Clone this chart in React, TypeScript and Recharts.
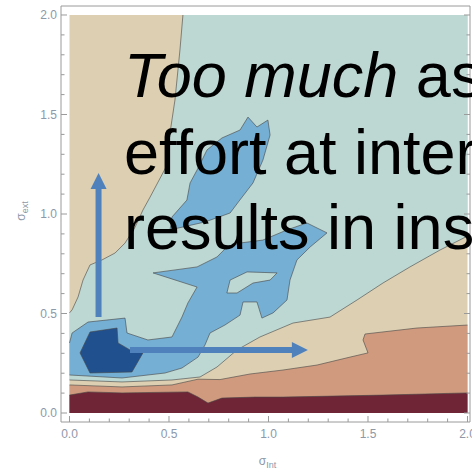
import React from 'react';
import { ScatterChart, Scatter, XAxis, YAxis } from 'recharts';

type Pt = [number, number];

// tick positions on every side of the frame (labels only on the halves)
const tickValues = [0, 0.1, 0.2, 0.3, 0.4, 0.5, 0.6, 0.7, 0.8, 0.9, 1, 1.1, 1.2, 1.3, 1.4, 1.5, 1.6, 1.7, 1.8, 1.9, 2];

// contour lines (sigma_int, sigma_ext)
const tealTop: Pt[] = [
  [0, 0.503], [0.013, 0.518], [0.043, 0.583], [0.068, 0.668], [0.103, 0.744], [0.163, 0.769],
  [0.229, 0.804], [0.279, 0.854], [0.33, 0.935], [0.369, 1.02], [0.405, 1.085], [0.485, 1.236],
  [0.505, 1.407], [0.53, 1.573], [0.555, 1.824], [0.57, 2],
];
const tealBottom: Pt[] = [
  [0, 0.166], [0.264, 0.156], [0.515, 0.166], [0.656, 0.181], [0.741, 0.231], [0.842, 0.317],
  [0.957, 0.382], [1.123, 0.452], [1.309, 0.482], [1.445, 0.568], [1.575, 0.653], [1.711, 0.734],
  [1.862, 0.819], [2, 0.889],
];
const salmonTop: Pt[] = [
  [0, 0.141], [0.264, 0.131], [0.515, 0.141], [0.646, 0.17], [0.756, 0.168], [0.907, 0.196],
  [1.073, 0.216], [1.244, 0.241], [1.41, 0.281], [1.5, 0.302], [1.475, 0.367], [1.485, 0.397],
  [1.746, 0.427], [2, 0.442],
];
const wineTop: Pt[] = [
  [0, 0.09], [0.093, 0.106], [0.264, 0.101], [0.595, 0.106], [0.646, 0.08], [0.696, 0.05],
  [0.766, 0.075], [0.932, 0.08], [1.073, 0.08], [1.575, 0.09], [2, 0.101],
];
const blueMain: Pt[] = [
  [0, 0.352], [0.013, 0.402], [0.093, 0.457], [0.279, 0.477], [0.289, 0.402], [0.394, 0.367],
  [0.515, 0.382], [0.565, 0.482], [0.595, 0.553], [0.641, 0.633], [0.42, 0.704], [0.641, 0.734],
  [0.741, 0.784], [0.791, 0.834], [0.856, 0.854], [0.972, 0.869], [1.093, 0.92], [1.193, 0.955],
  [1.294, 0.905], [1.209, 0.834], [1.143, 0.769], [1.108, 0.668], [1.093, 0.568], [1.023, 0.503],
  [0.967, 0.477], [0.942, 0.558], [0.872, 0.558], [0.857, 0.492], [0.781, 0.442], [0.706, 0.402],
  [0.681, 0.342], [0.646, 0.281], [0.565, 0.226], [0.48, 0.201], [0.264, 0.176], [0, 0.191],
];
const blueFinger: Pt[] = [
  [0.897, 1.487], [0.942, 1.437], [0.997, 1.472], [1.008, 1.397], [0.972, 1.271], [0.922, 1.156],
  [0.856, 1.07], [0.807, 1.005], [0.681, 0.96], [0.505, 0.92], [0.515, 0.985], [0.59, 1.07],
  [0.606, 1.156], [0.641, 1.221], [0.691, 1.322], [0.766, 1.382], [0.857, 1.422],
];
const blueHole: Pt[] = [
  [0.791, 0.603], [0.807, 0.668], [0.892, 0.709], [1.043, 0.704], [1.008, 0.668], [0.922, 0.653], [0.842, 0.603],
];
const navyCore: Pt[] = [
  [0.103, 0.407], [0.239, 0.427], [0.244, 0.352], [0.304, 0.317], [0.369, 0.302], [0.314, 0.206],
  [0.103, 0.201], [0.053, 0.302],
];
const upArrow: Pt[] = [[0.146, 0.482], [0.146, 1.206]];
const rightArrow: Pt[] = [[0.304, 0.317], [1.198, 0.317]];

const overlayLines = [
  { italic: 'Too much', rest: ' as' },
  { italic: '', rest: 'effort at inter' },
  { italic: '', rest: 'results in ins' },
];

const BEIGE = '#ddd0b2';
const TEAL = '#bdd7d3';
const SALMON = '#d09a7e';
const WINE = '#6f2536';
const BLUE = '#75afd3';
const NAVY = '#21508f';
const ARROW = '#4f81bd';
const EDGE = 'rgba(70,70,70,0.6)';
const FRAME = '#9a9a9a';
const LABEL = '#8d98a8';
const FONT = '"Liberation Sans", Arial, Helvetica, sans-serif';

const toRows = (pts: Pt[]) => pts.map(([x, y]) => ({ x, y }));

const tealFill: Pt[] = [...tealTop, [2, 2], ...tealBottom.slice().reverse()];
const salmonFill: Pt[] = [...salmonTop, [2, 0], [0, 0]];
const wineFill: Pt[] = [...wineTop, [2, 0], [0, 0]];
const beigeFill: Pt[] = [[0, 0], [2, 0], [2, 2], [0, 2]];

const fills = [
  { pts: beigeFill, color: BEIGE },
  { pts: tealFill, color: TEAL },
  { pts: salmonFill, color: SALMON },
  { pts: wineFill, color: WINE },
  { pts: blueMain, color: BLUE },
  { pts: blueFinger, color: BLUE },
  { pts: blueHole, color: TEAL },
  { pts: navyCore, color: NAVY },
];
const edges = [
  { pts: tealTop, closed: false },
  { pts: tealBottom, closed: false },
  { pts: salmonTop, closed: false },
  { pts: wineTop, closed: false },
  { pts: blueMain, closed: false },
  { pts: blueFinger, closed: true },
  { pts: blueHole, closed: true },
  { pts: navyCore, closed: true },
];

const pathOf = (points: { x: number; y: number }[], closed: boolean) =>
  points.map((p, i) => `${i ? 'L' : 'M'}${p.x},${p.y}`).join('') + (closed ? 'Z' : '');

const noDot = () => <g />;

const isMajor = (v: number) => Math.abs(v * 2 - Math.round(v * 2)) < 1e-6;

function FrameTick(props: any) {
  const { x, y, payload, side } = props;
  const v = payload.value as number;
  const len = isMajor(v) ? 6 : 3.5;
  const label = isMajor(v) ? v.toFixed(1) : null;
  if (side === 'bottom') {
    return (
      <g>
        <line x1={x} x2={x} y1={y} y2={y - len} stroke={FRAME} />
        {label && (
          <text x={x} y={y + 16} textAnchor="middle" fontSize={12} fontFamily={FONT} fill={LABEL}>{label}</text>
        )}
      </g>
    );
  }
  if (side === 'left') {
    return (
      <g>
        <line x1={x} x2={x + len} y1={y} y2={y} stroke={FRAME} />
        {label && (
          <text x={x - 4} y={y + 4.3} textAnchor="end" fontSize={12} fontFamily={FONT} fill={LABEL}>{label}</text>
        )}
      </g>
    );
  }
  if (side === 'top') {
    return <line x1={x} x2={x} y1={y} y2={y + len} stroke={FRAME} />;
  }
  return <line x1={x} x2={x - len} y1={y} y2={y} stroke={FRAME} />;
}

function XTitle(props: any) {
  const vb = props.viewBox;
  const cx = vb.x + vb.width / 2 + 2;
  const cy = vb.y + 43;
  return (
    <text x={cx} y={cy} textAnchor="middle" fontFamily={FONT} fill={LABEL} fontSize={12}>
      σ<tspan fontSize={9} dy={3}>Int</tspan>
    </text>
  );
}

function YTitle(props: any) {
  const vb = props.viewBox;
  const cx = vb.x + 25;
  const cy = vb.y + vb.height / 2 - 3;
  return (
    <text x={cx} y={cy} textAnchor="middle" fontFamily={FONT} fill={LABEL} fontSize={12} transform={`rotate(-90, ${cx}, ${cy})`}>
      σ<tspan fontSize={9} dy={3}>ext</tspan>
    </text>
  );
}

function arrowLine(p: any) {
  const [a, b] = p.points;
  const dx = b.x - a.x;
  const dy = b.y - a.y;
  const len = Math.hypot(dx, dy);
  const ux = dx / len;
  const uy = dy / len;
  const head = 16;
  const half = 8;
  const bx = b.x - ux * head;
  const by = b.y - uy * head;
  return (
    <g>
      <line x1={a.x} y1={a.y} x2={bx + ux} y2={by + uy} stroke={ARROW} strokeWidth={6} />
      <polygon
        points={`${b.x},${b.y} ${bx - uy * half},${by + ux * half} ${bx + uy * half},${by - ux * half}`}
        fill={ARROW}
      />
    </g>
  );
}

function ContourChart() {
  const xDomain = [-0.0427, 2.0126];
  const yDomain = [-0.0452, 2.0452];
  return (
    <ScatterChart width={472} height={469} margin={{ top: 0, right: 0, bottom: 0, left: 0 }}>
      <XAxis
        dataKey="x"
        type="number"
        domain={xDomain}
        allowDataOverflow
        ticks={tickValues}
        interval={0}
        height={47}
        tickSize={0}
        tickMargin={0}
        tickLine={false}
        axisLine={{ stroke: FRAME }}
        tick={(p: any) => <FrameTick {...p} side="bottom" />}
        label={(p: any) => <XTitle {...p} />}
      />
      <XAxis
        xAxisId="top"
        orientation="top"
        type="number"
        domain={xDomain}
        allowDataOverflow
        ticks={tickValues}
        interval={0}
        height={6}
        tickSize={0}
        tickMargin={0}
        tickLine={false}
        axisLine={{ stroke: FRAME }}
        tick={(p: any) => <FrameTick {...p} side="top" />}
      />
      <YAxis
        dataKey="y"
        type="number"
        domain={yDomain}
        allowDataOverflow
        ticks={tickValues}
        interval={0}
        width={61}
        tickSize={0}
        tickMargin={0}
        tickLine={false}
        axisLine={{ stroke: FRAME }}
        tick={(p: any) => <FrameTick {...p} side="left" />}
        label={(p: any) => <YTitle {...p} />}
      />
      <YAxis
        yAxisId="right"
        orientation="right"
        type="number"
        domain={yDomain}
        allowDataOverflow
        ticks={tickValues}
        interval={0}
        width={2}
        tickSize={0}
        tickMargin={0}
        tickLine={false}
        axisLine={{ stroke: FRAME }}
        tick={(p: any) => <FrameTick {...p} side="right" />}
      />
      {fills.map((f, i) => (
        <Scatter
          key={`fill-${i}`}
          data={toRows(f.pts)}
          shape={noDot}
          isAnimationActive={false}
          line={(p: any) => <path d={pathOf(p.points, true)} fill={f.color} stroke="none" />}
        />
      ))}
      {edges.map((e, i) => (
        <Scatter
          key={`edge-${i}`}
          data={toRows(e.pts)}
          shape={noDot}
          isAnimationActive={false}
          line={(p: any) => <path d={pathOf(p.points, e.closed)} fill="none" stroke={EDGE} strokeWidth={1} />}
        />
      ))}
      <Scatter data={toRows(upArrow)} shape={noDot} isAnimationActive={false} line={arrowLine} />
      <Scatter data={toRows(rightArrow)} shape={noDot} isAnimationActive={false} line={arrowLine} />
    </ScatterChart>
  );
}

export default function App() {
  const baselines = [97, 174, 249];
  return (
    <div style={{ position: 'fixed', left: 0, top: 0, width: 472, height: 469, overflow: 'hidden', background: '#fff' }}>
      <ContourChart />
      <svg width={472} height={469} style={{ position: 'absolute', left: 0, top: 0, pointerEvents: 'none' }}>
        {overlayLines.map((l, i) => (
          <text key={i} x={124} y={baselines[i]} fontFamily={FONT} fontSize={63} fill="#000">
            {l.italic && <tspan fontStyle="italic">{l.italic}</tspan>}
            <tspan>{l.rest}</tspan>
          </text>
        ))}
      </svg>
    </div>
  );
}
